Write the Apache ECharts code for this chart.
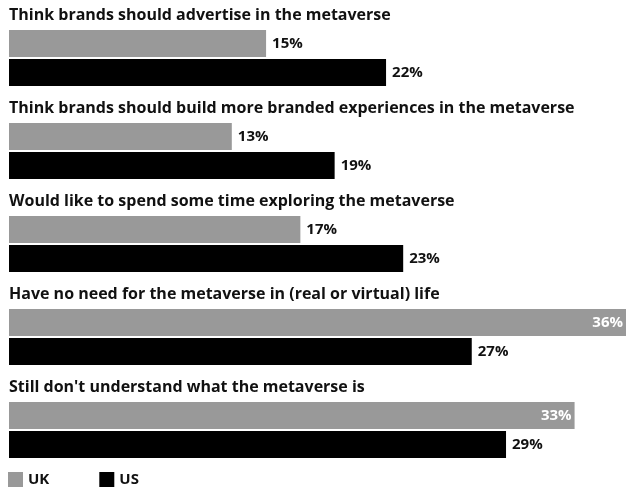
<!DOCTYPE html>
<html>
<head>
<meta charset="utf-8">
<script src="https://cdn.jsdelivr.net/npm/echarts@6/dist/echarts.min.js"></script>
<style>
  html, body { margin: 0; padding: 0; background: #fff; }
  #chart { width: 626px; height: 489px; }
</style>
</head>
<body>
<div id="chart"></div>
<script>
// survey questions, top to bottom
var questions = [
	'Think brands should advertise in the metaverse',
	'Think brands should build more branded experiences in the metaverse',
	'Would like to spend some time exploring the metaverse',
	'Have no need for the metaverse in (real or virtual) life',
	"Still don't understand what the metaverse is"
];
var ukValues = [15, 13, 17, 36, 33];
var usValues = [22, 19, 23, 27, 29];

var FONT = 'Open Sans';

// long grey bars carry the label inside, in white
function ukData() {
	var out = [];
	for (var i = 0; i < ukValues.length; i++) {
		var v = ukValues[i];
		if (v >= 30) {
			out.push({ value: v, label: { position: 'insideRight', color: '#fff', distance: 3 } });
		} else {
			out.push(v);
		}
	}
	return out;
}

var myChart = echarts.init(document.getElementById('chart'));

var option = {
	animation: false,
	legend: {
		left: 8,
		top: 472,
		padding: 0,
		icon: 'rect',
		itemWidth: 15,
		itemHeight: 15,
		itemGap: 50,
		textStyle: { fontFamily: FONT, fontSize: 15, fontWeight: 'bold', color: '#111' },
		data: ['UK', 'US']
	},
	grid: {
		left: 9,
		right: 0,
		top: 11.5,
		height: 465
	},
	xAxis: {
		type: 'value',
		min: 0,
		max: 36,
		show: false
	},
	yAxis: {
		type: 'category',
		inverse: true,
		data: questions,
		axisLine: { show: false },
		axisTick: { show: false },
		splitLine: { show: false },
		axisLabel: {
			inside: true,
			interval: 0,
			margin: 0,
			align: 'left',
			verticalAlign: 'middle',
			showMinLabel: true,
			showMaxLabel: true,
			// title sits above the pair of bars: push it up with an empty spacer line
			formatter: function (v) {
				return '{t|' + v + '}\n{s|}';
			},
			rich: {
				t: {
					fontFamily: FONT,
					fontSize: 16,
					fontWeight: 'bold',
					color: '#111',
					lineHeight: 18
				},
				s: { height: 86, lineHeight: 86 }
			}
		}
	},
	series: [
		{
			name: 'UK',
			type: 'bar',
			data: ukData(),
			barWidth: 27,
			barGap: '7%',
			itemStyle: { color: '#999999' },
			label: {
				show: true,
				position: 'right',
				distance: 6,
				formatter: '{c}%',
				fontFamily: FONT,
				fontSize: 15,
				fontWeight: 'bold',
				color: '#111'
			}
		},
		{
			name: 'US',
			type: 'bar',
			data: usValues,
			barWidth: 27,
			itemStyle: { color: '#000000' },
			label: {
				show: true,
				position: 'right',
				distance: 6,
				formatter: '{c}%',
				fontFamily: FONT,
				fontSize: 15,
				fontWeight: 'bold',
				color: '#111'
			}
		}
	]
};

myChart.setOption(option);
</script>
</body>
</html>
